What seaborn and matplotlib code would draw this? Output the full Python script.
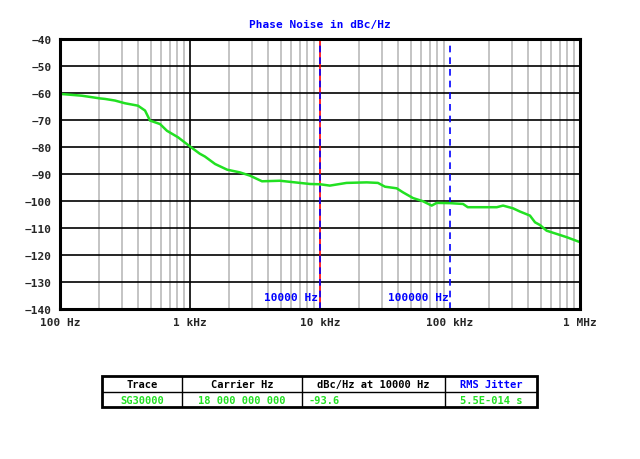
import numpy as np
import pandas as pd
import seaborn as sns
import matplotlib.pyplot as plt

# phase noise trace (offset Hz, dBc/Hz)
freq_hz = [100, 104, 147, 203, 222, 265, 316, 398, 451, 492, 588, 665, 809,
           1000, 1190, 1300, 1560, 1930, 2420, 2890, 3580, 4920, 6420, 8380,
           10000, 11900, 16000, 22900, 27900, 31600, 38900, 43500, 51900,
           62000, 72300, 79000, 100000, 126000, 137000, 179000, 229000,
           256000, 305000, 345000, 412000, 451000, 492000, 554000, 662000,
           790000, 970000, 1000000]
noise_dbc = [-60.3, -60.4, -61.0, -62.0, -62.2, -62.8, -63.8, -64.7, -66.5,
             -70.2, -71.5, -74.0, -76.4, -79.8, -82.5, -83.5, -86.3, -88.4,
             -89.4, -90.6, -92.7, -92.5, -93.1, -93.7, -93.8, -94.3, -93.3,
             -93.1, -93.3, -94.7, -95.3, -96.8, -98.9, -100.1, -101.7,
             -100.7, -100.8, -101.1, -102.3, -102.3, -102.3, -101.7, -102.7,
             -103.9, -105.4, -107.9, -108.9, -111.0, -112.2, -113.4, -115.0,
             -115.2]

x_ticks = [1e2, 1e3, 1e4, 1e5, 1e6]
x_labels = ["100 Hz", "1 kHz", "10 kHz", "100 kHz", "1 MHz"]
y_ticks = list(range(-140, -39, 10))

table_head = ["Trace", "Carrier Hz", "dBc/Hz at 10000 Hz", "RMS Jitter"]
table_row = ["SG30000", "18 000 000 000", "-93.6", "5.5E-014 s"]

sns.set_style("white")
plt.rcParams['font.family'] = ['DejaVu Sans Mono', 'DejaVu Sans']
plt.rcParams['font.weight'] = 'bold'

fig = plt.figure(figsize=(6.4, 4.6), dpi=100)
ax = fig.add_axes([60 / 640, 1 - 310 / 460, 520 / 640, 270 / 460])

df = pd.DataFrame({"f": freq_hz, "pn": noise_dbc})

ax.set_xscale("log")
ax.set_xlim(1e2, 1e6)
ax.set_ylim(-140, -40)

# grid: grey minor verticals, black horizontals, black at 1 kHz
for dec in [1e2, 1e3, 1e4, 1e5]:
    for m in range(2, 10):
        ax.axvline(dec * m, color="#b4b4b4", lw=1.1, zorder=1)
for y in y_ticks[1:-1]:
    ax.axhline(y, color="black", lw=1.2, zorder=1)
ax.axvline(1e3, color="black", lw=1.2, zorder=1)

# marker lines
ax.axvline(1e4, color="red", lw=1.2, zorder=2)
ax.axvline(1e4, color="blue", lw=1.2, dashes=(4, 3), zorder=2)
ax.axvline(1e5, color="blue", lw=1.2, dashes=(4, 3), zorder=2)
ax.text(1e4 * 0.97, -135.5, "10000 Hz", color="blue", fontsize=8,
        fontweight="bold", ha="right", va="center")
ax.text(1e5 * 0.97, -135.5, "100000 Hz", color="blue", fontsize=8,
        fontweight="bold", ha="right", va="center")

sns.lineplot(data=df, x="f", y="pn", ax=ax, color="#22e022", lw=1.8,
             zorder=3)

ax.set_xticks(x_ticks)
ax.set_xticklabels(x_labels)
ax.minorticks_off()
ax.set_yticks(y_ticks)
ax.tick_params(length=0, labelsize=8, pad=6)
for lab in ax.get_xticklabels() + ax.get_yticklabels():
    lab.set_fontweight("bold")
ax.set_xlabel("")
ax.set_ylabel("")
for s in ax.spines.values():
    s.set_visible(True)
    s.set_color("black")
    s.set_linewidth(2.2)
    s.set_zorder(5)

fig.text(320 / 640, 1 - 25 / 460, "Phase Noise in dBc/Hz", color="blue",
         fontsize=8, fontweight="bold", ha="center", va="center")

# info table under the chart
tab = fig.add_axes([102 / 640, 1 - 408 / 460, 435 / 640, 31 / 460])
tab.set_xlim(102, 537)
tab.set_ylim(408, 377)
tab.axis("off")
col_edges = [102, 182, 302, 445, 537]
tab.plot([102, 537], [392.5, 392.5], color="black", lw=1)
for x in col_edges[1:-1]:
    tab.plot([x, x], [377, 408], color="black", lw=1)
tab.add_patch(plt.Rectangle((102, 377), 435, 31, fill=False, lw=2,
                            edgecolor="black", clip_on=False))
for i, head in enumerate(table_head):
    cx = (col_edges[i] + col_edges[i + 1]) / 2
    tab.text(cx, 385, head, ha="center", va="center", fontsize=7.5,
             fontweight="bold", color="blue" if i == 3 else "black")
for i, val in enumerate(table_row):
    if i == 2:
        tab.text(col_edges[i] + 6, 400.5, val, ha="left", va="center",
                 fontsize=7.5, fontweight="bold", color="#22e022")
    else:
        cx = (col_edges[i] + col_edges[i + 1]) / 2
        tab.text(cx, 400.5, val, ha="center", va="center", fontsize=7.5,
                 fontweight="bold", color="#22e022")

fig.savefig("out.png", dpi=100)
